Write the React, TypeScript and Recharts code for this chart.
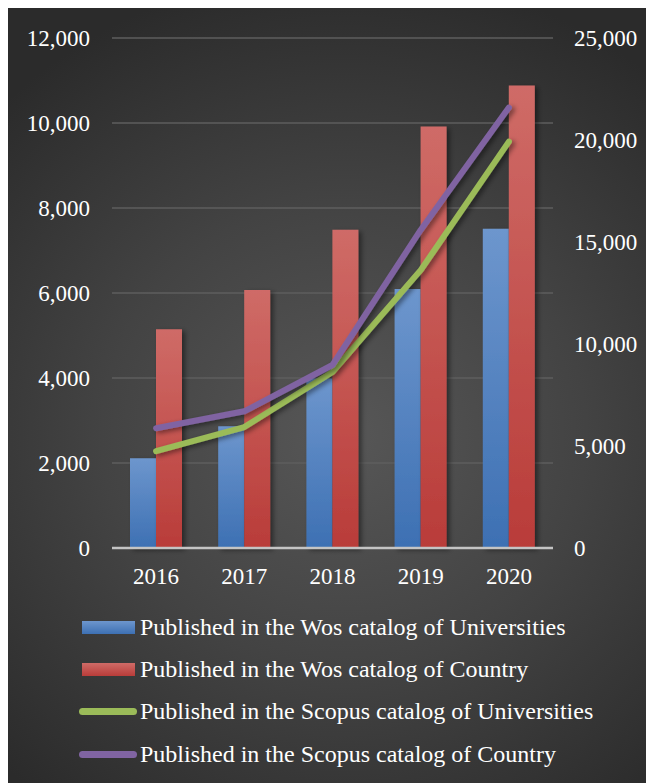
import React from 'react'
import {
  ComposedChart,
  Bar,
  Line,
  XAxis,
  YAxis,
  CartesianGrid
} from 'recharts'

const years = ['2016', '2017', '2018', '2019', '2020']
const wosUniversities = [2110, 2865, 3990, 6095, 7510]
const wosCountry = [5150, 6070, 7490, 9920, 10880]
const scopusUniversities = [4750, 5930, 8630, 13620, 19920]
const scopusCountry = [5870, 6700, 8970, 15590, 21590]
const leftTicks = [0, 2000, 4000, 6000, 8000, 10000, 12000]
const rightTicks = [0, 5000, 10000, 15000, 20000, 25000]

const seriesNames = [
  'Published in the Wos catalog of Universities',
  'Published in the Wos catalog of Country',
  'Published in the Scopus catalog of Universities',
  'Published in the Scopus catalog of Country'
]

const data = years.map((year, i) => ({
  year,
  wosUni: wosUniversities[i],
  wosCountry: wosCountry[i],
  scopusUni: scopusUniversities[i],
  scopusCountry: scopusCountry[i]
}))

const FONT = '"Liberation Serif", "Times New Roman", serif'
const fmt = (v: number) => v.toLocaleString('en-US')

const legendItems = [
  { name: seriesNames[0], kind: 'bar', from: '#6d96cd', to: '#3d70b3' },
  { name: seriesNames[1], kind: 'bar', from: '#cf6b67', to: '#b93c39' },
  { name: seriesNames[2], kind: 'line', from: '#9bbb59', to: '#9bbb59' },
  { name: seriesNames[3], kind: 'line', from: '#8064a2', to: '#8064a2' }
]

export default function App() {
  const tick = { fill: '#ffffff', fontSize: 23, fontFamily: FONT }

  return (
    <div
      style={{
        position: 'relative',
        width: 646,
        height: 775,
        background:
          'radial-gradient(ellipse 75% 60% at 52% 55%, #575757 0%, #434343 50%, #2b2b2b 100%)',
        fontFamily: FONT
      }}
    >
      <ComposedChart
        width={646}
        height={600}
        data={data}
        margin={{ top: 30, right: 0, bottom: 20, left: 0 }}
        barGap={0}
        barSize={26}
      >
        <defs>
          <linearGradient id="blueGrad" x1="0" y1="0" x2="0" y2="1">
            <stop offset="0%" stopColor="#6d96cd" />
            <stop offset="100%" stopColor="#3d70b3" />
          </linearGradient>
          <linearGradient id="redGrad" x1="0" y1="0" x2="0" y2="1">
            <stop offset="0%" stopColor="#cf6b67" />
            <stop offset="100%" stopColor="#b93c39" />
          </linearGradient>
          <filter id="shadow" x="-30%" y="-10%" width="160%" height="130%">
            <feDropShadow dx="3" dy="2" stdDeviation="2.5" floodColor="#000" floodOpacity="0.45" />
          </filter>
        </defs>
        <CartesianGrid
          yAxisId="left"
          vertical={false}
          stroke="#5e5e5e"
          strokeWidth={1.5}
        />
        <XAxis
          dataKey="year"
          height={40}
          tickLine={false}
          tickMargin={14}
          axisLine={{ stroke: '#c4c4c4', strokeWidth: 2.5 }}
          tick={tick}
        />
        <YAxis
          yAxisId="left"
          width={104}
          domain={[0, 12000]}
          ticks={leftTicks}
          tickFormatter={fmt}
          axisLine={false}
          tickLine={false}
          tickMargin={16}
          tick={tick}
        />
        <YAxis
          yAxisId="right"
          orientation="right"
          width={101}
          domain={[0, 25000]}
          ticks={rightTicks}
          tickFormatter={fmt}
          axisLine={false}
          tickLine={false}
          tickMargin={15}
          tick={{ ...tick, textAnchor: 'start' }}
        />
        <Bar
          yAxisId="left"
          dataKey="wosUni"
          name={seriesNames[0]}
          fill="url(#blueGrad)"
          filter="url(#shadow)"
          isAnimationActive={false}
        />
        <Bar
          yAxisId="left"
          dataKey="wosCountry"
          name={seriesNames[1]}
          fill="url(#redGrad)"
          filter="url(#shadow)"
          isAnimationActive={false}
        />
        <Line
          yAxisId="right"
          dataKey="scopusUni"
          name={seriesNames[2]}
          stroke="#9bbb59"
          strokeWidth={6}
          strokeLinecap="round"
          strokeLinejoin="round"
          dot={false}
          filter="url(#shadow)"
          isAnimationActive={false}
        />
        <Line
          yAxisId="right"
          dataKey="scopusCountry"
          name={seriesNames[3]}
          stroke="#8064a2"
          strokeWidth={6}
          strokeLinecap="round"
          strokeLinejoin="round"
          dot={false}
          filter="url(#shadow)"
          isAnimationActive={false}
        />
      </ComposedChart>

      {/* legend, one row per series */}
      {legendItems.map((item, i) => (
        <div
          key={item.name}
          style={{
            position: 'absolute',
            left: 71,
            top: 619 + i * 42.4 - 16,
            height: 32,
            display: 'flex',
            alignItems: 'center',
            color: '#ffffff',
            fontSize: 24,
            whiteSpace: 'nowrap'
          }}
        >
          {item.kind === 'bar' ? (
            <div
              style={{
                width: 53,
                height: 13,
                marginLeft: 3,
                marginRight: 5,
                background: `linear-gradient(${item.from}, ${item.to})`
              }}
            />
          ) : (
            <div
              style={{
                width: 58,
                height: 7,
                marginLeft: 0,
                marginRight: 3,
                borderRadius: 4,
                background: item.from
              }}
            />
          )}
          <span>{item.name}</span>
        </div>
      ))}
    </div>
  )
}
